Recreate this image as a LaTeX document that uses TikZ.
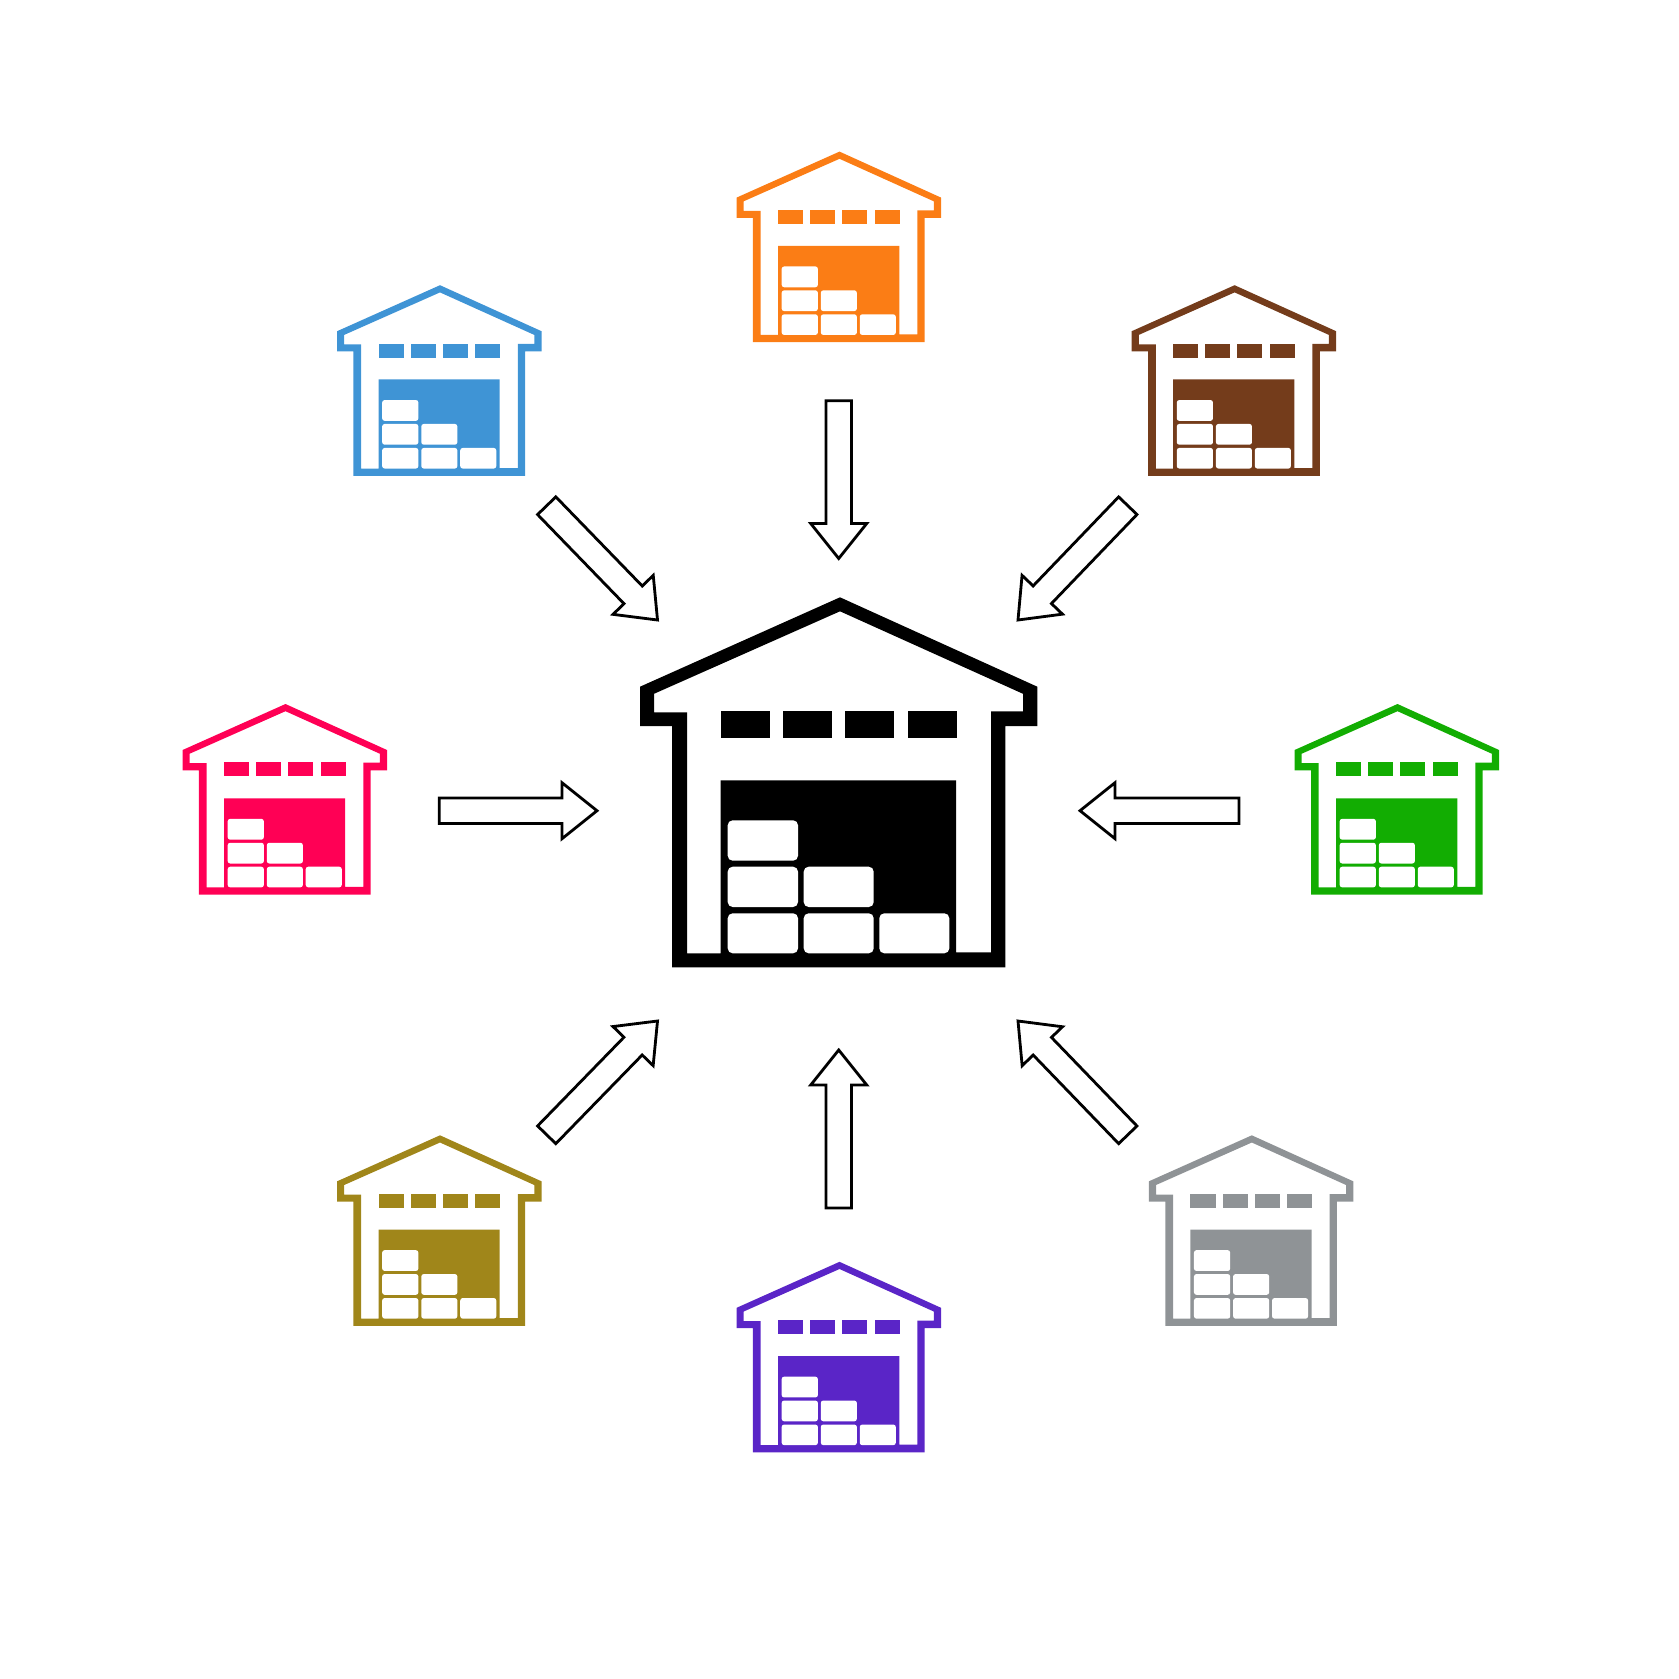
\documentclass[tikz,border=0pt]{standalone}
\usepackage{tikz}
\usetikzlibrary{calc}
\definecolor{whorange}{HTML}{FB7D15}
\definecolor{whblue}{HTML}{3F94D5}
\definecolor{whbrown}{HTML}{743C1B}
\definecolor{whred}{HTML}{FF0055}
\definecolor{whgreen}{HTML}{12AD02}
\definecolor{wholive}{HTML}{A0861A}
\definecolor{whgray}{HTML}{8F9396}
\definecolor{whpurple}{HTML}{5A25C7}
\tikzset{
  crate/.style={fill=white},
  smallwh/.style={scale=0.515},
  blockarrow/.style={draw=black,fill=white,line width=0.8pt,to path={
    ($(\tikztotarget)!0.35cm!(\tikztostart)$) coordinate (hb)
    ($(\tikztostart)!0.127cm!90:(\tikztotarget)$)
    -- ($(hb)!0.127cm!90:(\tikztotarget)$)
    -- ($(hb)!0.28cm!90:(\tikztotarget)$)
    -- (\tikztotarget)
    -- ($(hb)!0.28cm!-90:(\tikztotarget)$)
    -- ($(hb)!0.127cm!-90:(\tikztotarget)$)
    -- ($(\tikztostart)!0.127cm!-90:(\tikztotarget)$) -- cycle}},
  pics/warehouse/.style 2 args={code={
    \coordinate (-apex) at (0,0);
    \fill [#1,even odd rule] (0,0) -- (197.3,89.4) -- (197.3,128.7) -- (165.3,128.7) -- (165.3,370)
      -- (-168,370) -- (-168,128.7) -- (-200,128.7) -- (-200,89.4) -- cycle
      (0,14) -- (183,96.5) -- (183,114) -- (151,114) -- (151,355) -- (116,355) -- (116,183)
      -- (-119.3,183) -- (-119.3,356) -- (-153,356) -- (-153,115) -- (-186,115) -- (-186,96.5) -- cycle;
    \fill [#1] (-119.3,113.4) rectangle (-70.3,140.4);
    \fill [#1] (-56.7,113.4) rectangle (-8,140.4);
    \fill [#1] (5.3,113.4) rectangle (54,140.4);
    \fill [#1] (68,113.4) rectangle (116.7,140.4);
    \fill [crate,rounded corners=#2] (-112.3,223) rectangle (-42,263.4);
    \fill [crate,rounded corners=#2] (-112.3,269.4) rectangle (-42,309.7);
    \fill [crate,rounded corners=#2] (-36.3,269.4) rectangle (33.7,309.7);
    \fill [crate,rounded corners=#2] (-112.3,316) rectangle (-42,356);
    \fill [crate,rounded corners=#2] (-36.3,316) rectangle (33.7,356);
    \fill [crate,rounded corners=#2] (39.3,316) rectangle (109.3,356);
  }},
}
\begin{document}
\begin{tikzpicture}[x=0.01cm,y=-0.01cm]
\useasboundingbox (0,0) rectangle (1679,1679);
% warehouses
\pic (hub) at (840,597.3) {warehouse={black}{1.4pt}};
\pic (orange) [smallwh] at (839.5,151.6) {warehouse={whorange}{0.7pt}};
\pic (blue) [smallwh] at (440,285.2) {warehouse={whblue}{0.7pt}};
\pic (brown) [smallwh] at (1234.6,285.2) {warehouse={whbrown}{0.7pt}};
\pic (red) [smallwh] at (285.5,704) {warehouse={whred}{0.7pt}};
\pic (green) [smallwh] at (1397.5,704) {warehouse={whgreen}{0.7pt}};
\pic (olive) [smallwh] at (440,1135.3) {warehouse={wholive}{0.7pt}};
\pic (gray) [smallwh] at (1251.8,1135.3) {warehouse={whgray}{0.7pt}};
\pic (purple) [smallwh] at (839.5,1261.8) {warehouse={whpurple}{0.7pt}};
% arrow ends
\coordinate (orangeout) at (838.7,400.7);
\coordinate (hubtop) at (838.7,558.5);
\coordinate (purpleout) at (838.7,1208);
\coordinate (hubbottom) at (838.7,1050);
\coordinate (redout) at (439.3,810.7);
\coordinate (hubleft) at (597,810.7);
\coordinate (greenout) at (1239,810.7);
\coordinate (hubright) at (1080,810.7);
\coordinate (blueout) at (546.7,505.7);
\coordinate (hubnw) at (657.5,620);
\coordinate (brownout) at (1127.8,505.7);
\coordinate (hubne) at (1018,620);
\coordinate (oliveout) at (546.7,1134.8);
\coordinate (hubsw) at (657.5,1021);
\coordinate (grayout) at (1127.8,1134.8);
\coordinate (hubse) at (1018,1021);
% arrows
\draw [blockarrow] (orangeout) to (hubtop);
\draw [blockarrow] (purpleout) to (hubbottom);
\draw [blockarrow] (redout) to (hubleft);
\draw [blockarrow] (greenout) to (hubright);
\draw [blockarrow] (blueout) to (hubnw);
\draw [blockarrow] (brownout) to (hubne);
\draw [blockarrow] (oliveout) to (hubsw);
\draw [blockarrow] (grayout) to (hubse);
\end{tikzpicture}
\end{document}
